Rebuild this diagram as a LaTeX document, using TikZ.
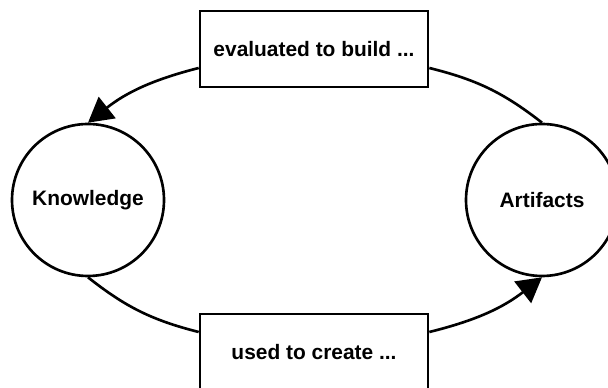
\documentclass[tikz,border=0pt]{standalone}
\usepackage{fontspec}
\setmainfont{Liberation Sans}
\usetikzlibrary{arrows.meta}

\tikzset{
	topic/.style={draw, circle, line width=1.5pt, minimum size=3.04cm, inner sep=0pt,
		font=\fontsize{11.9}{14}\selectfont\bfseries},
	action/.style={draw, rectangle, line width=1.5pt, minimum width=4.56cm, minimum height=1.52cm,
		inner sep=0pt, font=\fontsize{11.9}{14}\selectfont\bfseries},
	flow/.style={line width=1.5pt},
	flowtip/.style={flow, -{Triangle[length=0.49cm,width=0.54cm]}},
}

\begin{document}
\begin{tikzpicture}
	
	\useasboundingbox (0cm,0cm) rectangle (12.16cm,7.74cm);
	\node[topic] (knowledge) at (1.76cm, 3.74cm) {Knowledge};
	\node[topic] (artifacts) at (10.84cm, 3.74cm) {Artifacts};
	\node[action] (evaluated) at (6.28cm, 6.76cm) {evaluated to build ...};
	\node[action] (used) at (6.28cm, 0.70cm) {used to create ...};
	
	\draw[flow] (artifacts.north) to[bend right=12] ([yshift=-0.38cm]evaluated.east);
	\draw[flowtip] ([yshift=-0.38cm]evaluated.west) to[bend right=12] (knowledge.north);
	\draw[flow] (knowledge.south) to[bend right=12] ([yshift=0.4cm]used.west);
	\draw[flowtip] ([yshift=0.4cm]used.east) to[bend right=12] (artifacts.south);
	
\end{tikzpicture}
\end{document}
